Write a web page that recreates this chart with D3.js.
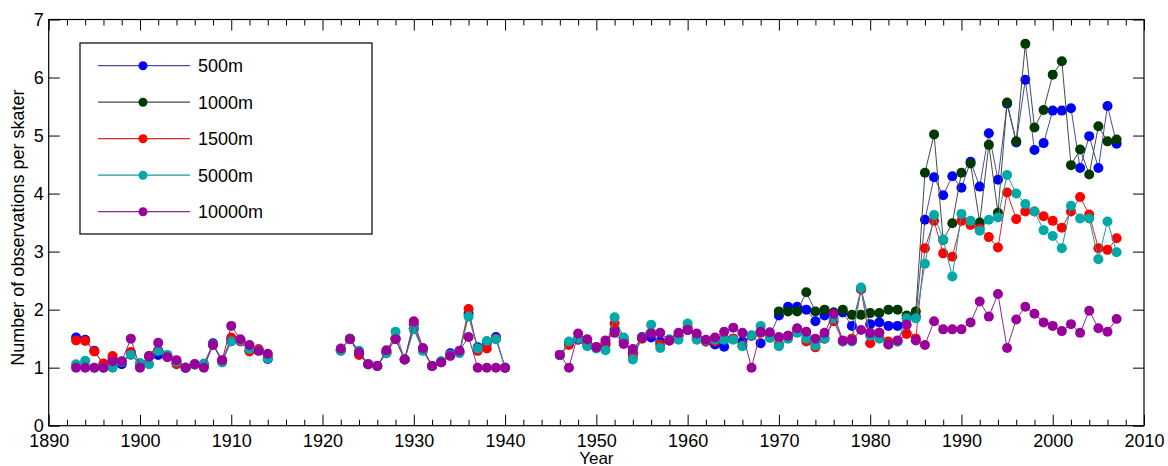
<!DOCTYPE html>
<html><head><meta charset="utf-8">
<script src="https://cdn.jsdelivr.net/npm/d3@7"></script>
<style>
html,body{margin:0;padding:0;background:#fff;}
svg text{font-family:"Liberation Sans",Arial,Helvetica,sans-serif;}
</style></head>
<body><svg id="c" width="1168" height="466"></svg>
<script>
const years = [1893,1894,1895,1896,1897,1898,1899,1900,1901,1902,1903,1904,1905,1906,1907,1908,1909,1910,1911,1912,1913,1914,
1915,1916,1917,1918,1919,1920,1921,
1922,1923,1924,1925,1926,1927,1928,1929,1930,1931,1932,1933,1934,1935,1936,1937,1938,1939,1940,
1941,1942,1943,1944,1945,
1946,1947,1948,1949,1950,1951,1952,1953,1954,1955,1956,1957,1958,1959,1960,1961,1962,1963,1964,1965,1966,1967,1968,1969,
1970,1971,1972,1973,1974,1975,1976,1977,1978,1979,1980,1981,1982,1983,1984,1985,
1986,1987,1988,1989,1990,1991,1992,1993,1994,1995,1996,1997,1998,1999,2000,2001,2002,2003,2004,2005,2006,2007];

const m500 = [1.52,1.48,1.29,1.05,1.15,1.06,1.25,1.05,1.2,1.22,1.2,1.08,1.0,1.06,1.05,1.42,1.12,1.48,1.47,1.3,1.3,1.15,
null,null,null,null,null,null,null,
1.3,1.5,1.25,1.06,1.03,1.27,1.5,1.14,1.68,1.32,1.03,1.1,1.25,1.27,1.93,1.35,1.42,1.53,1.0,
null,null,null,null,null,
1.22,1.42,1.48,1.42,1.35,1.4,1.65,1.45,1.25,1.53,1.52,1.45,1.47,1.55,1.65,1.5,1.45,1.4,1.36,1.5,1.45,1.55,1.42,1.55,
1.9,2.05,2.05,2.0,1.8,1.9,1.95,1.95,1.72,2.35,1.75,1.78,1.72,1.72,1.85,1.88,
3.55,4.28,3.97,4.3,4.1,4.55,4.12,5.04,4.24,5.55,4.88,5.96,4.75,4.87,5.43,5.43,5.47,4.44,4.99,4.44,5.51,4.86];

const m1000 = [null,null,null,null,null,null,null,null,null,null,null,null,null,null,null,null,null,null,null,null,null,null,
null,null,null,null,null,null,null,
null,null,null,null,null,null,null,null,null,null,null,null,null,null,null,null,null,null,null,
null,null,null,null,null,
null,null,null,null,null,null,null,null,null,null,null,null,null,null,null,null,null,null,null,null,null,null,null,null,
1.97,1.97,1.97,2.3,1.97,2.0,1.95,2.0,1.91,1.91,1.94,1.94,2.0,2.0,1.9,1.97,
4.36,5.02,3.2,3.49,4.36,4.52,3.5,4.84,3.67,5.57,4.9,6.58,5.14,5.44,6.05,6.28,4.49,4.76,4.33,5.16,4.9,4.93];

const m1500 = [1.47,1.46,1.28,1.07,1.2,1.1,1.27,1.05,1.2,1.3,1.2,1.06,1.0,1.06,1.03,1.4,1.12,1.52,1.45,1.28,1.32,1.2,
null,null,null,null,null,null,null,
1.3,1.5,1.22,1.06,1.03,1.25,1.5,1.14,1.75,1.3,1.03,1.1,1.22,1.27,2.01,1.29,1.33,1.5,1.0,
null,null,null,null,null,
1.22,1.39,1.5,1.42,1.35,1.42,1.76,1.5,1.2,1.5,1.6,1.4,1.47,1.55,1.7,1.52,1.45,1.45,1.5,1.5,1.38,1.55,1.6,1.55,
1.4,1.55,1.65,1.45,1.35,1.5,1.8,1.45,1.5,2.35,1.42,1.6,1.45,1.45,1.58,1.5,
3.06,3.53,2.97,2.91,3.53,3.46,3.4,3.25,3.07,4.02,3.56,3.69,3.69,3.61,3.53,3.41,3.69,3.94,3.64,3.06,3.03,3.23];

const m5000 = [1.06,1.12,1.0,1.0,1.0,1.1,1.22,1.08,1.06,1.29,1.22,1.1,1.0,1.05,1.07,1.4,1.09,1.45,1.47,1.32,1.3,1.16,
null,null,null,null,null,null,null,
1.29,1.5,1.29,1.06,1.03,1.25,1.62,1.14,1.66,1.29,1.03,1.11,1.22,1.25,1.88,1.33,1.46,1.49,1.0,
null,null,null,null,null,
1.22,1.45,1.5,1.37,1.33,1.3,1.87,1.52,1.14,1.52,1.74,1.34,1.49,1.48,1.76,1.48,1.47,1.48,1.48,1.48,1.37,1.56,1.72,1.51,
1.37,1.5,1.6,1.5,1.38,1.5,1.85,1.45,1.45,2.38,1.55,1.5,1.4,1.45,1.85,1.85,
2.79,3.63,3.21,2.57,3.65,3.53,3.36,3.55,3.59,4.32,4.0,3.82,3.69,3.37,3.27,3.06,3.79,3.57,3.57,2.87,3.52,2.99];

const m10000 = [1.0,1.0,1.0,1.0,1.11,1.11,1.5,1.0,1.19,1.43,1.18,1.13,1.0,1.06,1.0,1.39,1.13,1.72,1.49,1.39,1.29,1.24,
null,null,null,null,null,null,null,
1.33,1.49,1.26,1.06,1.03,1.3,1.49,1.14,1.8,1.34,1.03,1.09,1.2,1.29,1.53,1.0,1.0,1.0,1.0,
null,null,null,null,null,
1.22,1.0,1.59,1.49,1.35,1.47,1.6,1.41,1.32,1.51,1.59,1.6,1.47,1.6,1.65,1.59,1.48,1.52,1.62,1.69,1.6,1.0,1.62,1.61,
1.53,1.55,1.68,1.62,1.5,1.6,1.93,1.47,1.47,1.65,1.6,1.6,1.4,1.47,1.74,1.47,
1.39,1.8,1.66,1.66,1.66,1.78,2.14,1.88,2.27,1.34,1.83,2.05,1.93,1.78,1.72,1.63,1.75,1.6,1.98,1.68,1.62,1.84];

const seriesNames = ["500m","1000m","1500m","5000m","10000m"];
const seriesValues = [m500, m1000, m1500, m5000, m10000];
const markerColors = ["#0000ff","#003a00","#ff0000","#00a8a8","#9a009a"];
const lineColors = ["#4a4aa8","#3f4f3f","#e02828","#1a9a9a","#8a2a8a"];
const xTicks = [1890,1900,1910,1920,1930,1940,1950,1960,1970,1980,1990,2000,2010];
const yTicks = [0,1,2,3,4,5,6,7];

const svg = d3.select("#c");
const L = 48.7, R = 1144, T = 19.5, B = 425.7;
const x = d3.scaleLinear().domain([1890, 2010]).range([L, R]);
const y = d3.scaleLinear().domain([0, 7]).range([B, T]);

const minorX = d3.range(1892, 2010, 2).filter(v => v % 10 !== 0);

function styleAxis(g){
  g.select(".domain").remove();
  g.selectAll("line").attr("stroke","#000").attr("stroke-width",1);
  g.selectAll("text").attr("fill","#000").style("font-size","18px")
    .style("font-family",'"Liberation Sans",Arial,Helvetica,sans-serif');
}
// bottom
svg.append("g").attr("transform",`translate(0,${B})`)
  .call(d3.axisBottom(x).tickValues(xTicks).tickFormat(d3.format("d")).tickSizeInner(-11).tickSizeOuter(0).tickPadding(9))
  .call(styleAxis);
svg.append("g").attr("transform",`translate(0,${B})`)
  .call(d3.axisBottom(x).tickValues(minorX).tickFormat("").tickSizeInner(-6).tickSizeOuter(0))
  .call(styleAxis);
// top
svg.append("g").attr("transform",`translate(0,${T})`)
  .call(d3.axisTop(x).tickValues(xTicks).tickFormat("").tickSizeInner(-11).tickSizeOuter(0))
  .call(styleAxis);
svg.append("g").attr("transform",`translate(0,${T})`)
  .call(d3.axisTop(x).tickValues(minorX).tickFormat("").tickSizeInner(-6).tickSizeOuter(0))
  .call(styleAxis);
// left
svg.append("g").attr("transform",`translate(${L},0)`)
  .call(d3.axisLeft(y).tickValues(yTicks).tickFormat(d3.format("d")).tickSizeInner(-11).tickSizeOuter(0).tickPadding(5))
  .call(styleAxis);
// right
svg.append("g").attr("transform",`translate(${R},0)`)
  .call(d3.axisRight(y).tickValues(yTicks).tickFormat("").tickSizeInner(-11).tickSizeOuter(0))
  .call(styleAxis);
// box
svg.append("rect").attr("x",L).attr("y",T).attr("width",R-L).attr("height",B-T)
  .attr("fill","none").attr("stroke","#000").attr("stroke-width",1.2);

// axis titles
svg.append("text").attr("x",(L+R)/2).attr("y",464).attr("text-anchor","middle")
  .style("font-size","17px").text("Year");
svg.append("text").attr("transform",`translate(24,${(T+B)/2 + 5}) rotate(-90)`).attr("text-anchor","middle")
  .style("font-size","18px").text("Number of observations per skater");

// series
const line = d3.line().defined(d => d.v != null).x(d => x(d.year)).y(d => y(d.v));
seriesValues.forEach((vals, i) => {
  const data = years.map((yr, j) => ({year: yr, v: vals[j]}));
  const g = svg.append("g");
  g.append("path").datum(data).attr("d", line).attr("fill","none")
    .attr("stroke", lineColors[i]).attr("stroke-width",1);
  g.selectAll("circle").data(data.filter(d => d.v != null)).join("circle")
    .attr("cx", d => x(d.year)).attr("cy", d => y(d.v)).attr("r", 5)
    .attr("fill", markerColors[i]);
});

// legend
const lg = svg.append("g");
lg.append("rect").attr("x",80).attr("y",43).attr("width",292).attr("height",191)
  .attr("fill","#fff").attr("stroke","#000").attr("stroke-width",1.2);
const rowY = d3.scaleLinear().domain([0,4]).range([65.7, 211.7]);
seriesNames.forEach((name, i) => {
  const yy = rowY(i);
  lg.append("line").attr("x1",98).attr("x2",190).attr("y1",yy).attr("y2",yy)
    .attr("stroke", lineColors[i]).attr("stroke-width",1.2);
  lg.append("circle").attr("cx",143).attr("cy",yy).attr("r",4.5).attr("fill",markerColors[i]);
  lg.append("text").attr("x",198).attr("y",yy+6.5).style("font-size","18px").text(name);
});
</script></body></html>
